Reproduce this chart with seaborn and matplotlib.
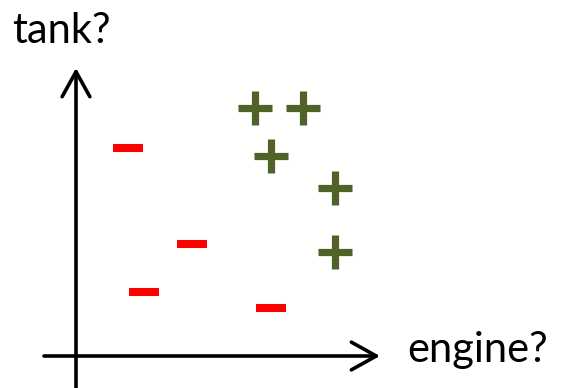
import matplotlib
matplotlib.use("Agg")
import matplotlib.pyplot as plt
from matplotlib.markers import MarkerStyle
import seaborn as sns
import pandas as pd

# data (units relative to the axis crossing point)
plus_x = [179, 227, 195, 259, 259]
plus_y = [248, 248, 200, 168, 104]
minus_x = [52, 116, 68, 195]
minus_y = [208, 112, 64, 48]
x_label = "engine?"
y_label = "tank?"

sns.set_theme(style="white")
plt.rcParams['font.family'] = ['Lato', 'DejaVu Sans']

fig = plt.figure(figsize=(5.63, 3.88), dpi=100)
ax = fig.add_axes([0, 0, 1, 1])
ax.set_xlim(-76, 487)
ax.set_ylim(-32, 356)
ax.axis("off")

# axes arrows
arrow_kw = dict(arrowstyle="->,head_length=0.9,head_width=0.5", lw=2.6, color="black",
                shrinkA=0, shrinkB=0, mutation_scale=20)
ax.annotate("", xy=(304, 0), xytext=(-32, 0), arrowprops=arrow_kw)
ax.annotate("", xy=(0, 288), xytext=(0, -32), arrowprops=arrow_kw)

plus_df = pd.DataFrame({"x": plus_x, "y": plus_y})
minus_df = pd.DataFrame({"x": minus_x, "y": minus_y})

sns.scatterplot(data=plus_df, x="x", y="y", ax=ax,
                marker=MarkerStyle("+", capstyle="round"), s=24**2,
                color="#4f6228", linewidth=5.2, legend=False)
sns.scatterplot(data=minus_df, x="x", y="y", ax=ax,
                marker=MarkerStyle("_", capstyle="round"), s=21.5**2,
                color="#ff0000", linewidth=5.8, legend=False)

ax.text(-64, 313, y_label, fontsize=30, ha="left", va="baseline", color="black")
ax.text(331, -6, x_label, fontsize=30, ha="left", va="baseline", color="black")

fig.savefig("out.png", dpi=100)
